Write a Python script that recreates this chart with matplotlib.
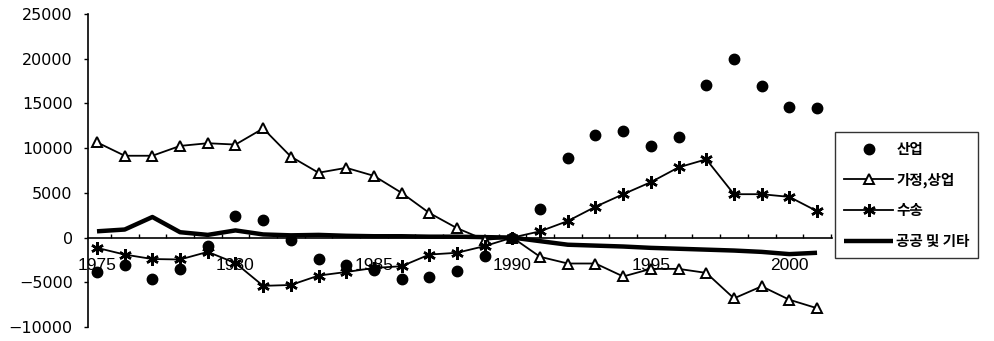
import matplotlib
matplotlib.use("Agg")
import matplotlib.pyplot as plt
from matplotlib.ticker import FixedLocator

plt.rcParams['font.family'] = ['Noto Sans CJK KR', 'DejaVu Sans']

years = list(range(1975, 2002))

# 산업 (markers only)
industry = [-3900, -3100, -4650, -3500, -900, 2450, 1950, -300, -2400, -3050,
            -3600, -4600, -4400, -3750, -2100, 0, 3200, 8850, 11450, 11950,
            10200, 11300, 17100, 19950, 17000, 14600, 14450]
# 가정,상업
residential = [10650, 9150, 9150, 10250, 10550, 10400, 12200, 9050, 7250, 7800,
               6900, 5000, 2750, 1050, -250, 0, -2150, -2900, -2900, -4350,
               -3500, -3500, -3950, -6800, -5450, -6950, -7900]
# 수송
transport = [-1150, -1900, -2400, -2450, -1600, -2850, -5400, -5300, -4250, -3850,
             -3400, -3200, -1900, -1700, -950, 0, 700, 1850, 3450, 4850,
             6200, 7850, 8750, 4850, 4850, 4550, 2950]
# 공공 및 기타
public = [700, 900, 2300, 600, 300, 800, 350, 250, 300, 200,
          150, 150, 100, 100, 50, 0, -400, -800, -900, -1000,
          -1150, -1250, -1350, -1450, -1600, -1850, -1700]

xtick_years = [1975, 1980, 1985, 1990, 1995, 2000]
ytick_values = list(range(-10000, 25001, 5000))

fig = plt.figure(figsize=(9.95, 3.41), dpi=100)
ax = fig.add_axes([88 / 995, 14 / 341, (832 - 88) / 995, (327 - 14) / 341])

ax.plot(years, public, color='black', lw=3.2, solid_capstyle='butt',
        label='공공 및 기타', zorder=3)
ax.plot(years, residential, color='black', lw=1.3, marker='^', ms=7,
        mfc='white', mec='black', mew=1.4, label='가정,상업', zorder=4)
ax.plot(years, transport, color='black', lw=1.3, marker=(6, 2, 0), ms=9,
        mew=1.8, label='수송', zorder=4)
ax.plot(years, industry, ls='none', marker='o', ms=7.5, color='black',
        label='산업', zorder=5)

ax.set_xlim(1974.675, 2001.54)
ax.set_ylim(-10000, 25000)

for s in ['top', 'right']:
    ax.spines[s].set_visible(False)
ax.spines['bottom'].set_position(('data', 0))
ax.spines['bottom'].set_linewidth(1.2)
ax.spines['left'].set_linewidth(1.2)

ax.yaxis.set_major_locator(FixedLocator(ytick_values))
ax.tick_params(axis='y', direction='out', length=3, width=1, pad=8,
               labelsize=11.5, labelfontfamily='DejaVu Sans')

ax.xaxis.set_major_locator(FixedLocator(xtick_years))
ax.set_xticklabels([str(y) for y in xtick_years])
ax.xaxis.set_minor_locator(FixedLocator([y + 0.5 for y in years]))
ax.tick_params(axis='x', which='major', length=0, pad=15, labelsize=12.5,
               labelfontfamily='Liberation Sans')
ax.tick_params(axis='x', which='minor', direction='in', length=3, width=1)
for lbl in ax.get_xticklabels():
    lbl.set_zorder(6)

handles, labels = ax.get_legend_handles_labels()
order = [3, 1, 2, 0]
leg = fig.legend([handles[i] for i in order], [labels[i] for i in order],
                 loc='upper left', bbox_to_anchor=(835 / 995, 1 - 132 / 341),
                 frameon=True, fancybox=False, shadow=False,
                 prop={'size': 10.5, 'weight': 'bold'},
                 handlelength=3.4, handletextpad=0.2, labelspacing=1.0,
                 borderpad=0.6, borderaxespad=0)
leg.get_frame().set_edgecolor('black')
leg.get_frame().set_linewidth(1.0)

fig.savefig('out.png', dpi=100)
